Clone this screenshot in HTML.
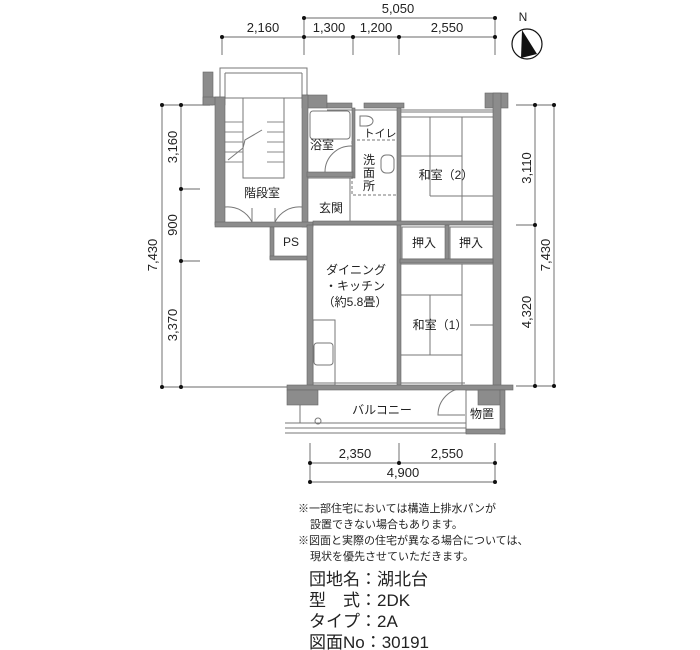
<!DOCTYPE html>
<html><head><meta charset="utf-8"><style>
body{margin:0;background:#fff;width:700px;height:650px;overflow:hidden}
svg{display:block}
text{font-family:"Liberation Sans","Noto Sans CJK JP",sans-serif;fill:#222}
</style></head><body>
<svg width="700" height="650" viewBox="0 0 700 650" xmlns="http://www.w3.org/2000/svg">
<g stroke="#888" stroke-width="1.2" fill="none">
<!-- top dims -->
<line x1="304" y1="18" x2="495" y2="18"/>
<line x1="222" y1="37" x2="495" y2="37"/>
<line x1="222" y1="37" x2="222" y2="55"/>
<line x1="304" y1="18" x2="304" y2="55"/>
<line x1="353" y1="37" x2="353" y2="55"/>
<line x1="399" y1="37" x2="399" y2="55"/>
<line x1="495" y1="18" x2="495" y2="55"/>
<!-- left dims -->
<line x1="162" y1="105" x2="162" y2="387"/>
<line x1="181" y1="105" x2="181" y2="387"/>
<line x1="162" y1="105" x2="210" y2="105"/>
<line x1="162" y1="387" x2="290" y2="387"/>
<line x1="181" y1="189" x2="200" y2="189"/>
<line x1="181" y1="261" x2="200" y2="261"/>
<!-- right dims -->
<line x1="535" y1="105" x2="535" y2="386"/>
<line x1="554" y1="105" x2="554" y2="386"/>
<line x1="516" y1="105" x2="556" y2="105"/>
<line x1="516" y1="386" x2="556" y2="386"/>
<line x1="516" y1="225" x2="535" y2="225"/>
<!-- bottom dims -->
<line x1="310" y1="463" x2="495" y2="463"/>
<line x1="310" y1="482" x2="495" y2="482"/>
<line x1="310" y1="443" x2="310" y2="482"/>
<line x1="399" y1="443" x2="399" y2="463"/>
<line x1="495" y1="443" x2="495" y2="482"/>
</g>
<g fill="#111">
<circle cx="304" cy="18" r="2"/><circle cx="495" cy="18" r="2"/>
<circle cx="222" cy="37" r="2"/><circle cx="304" cy="37" r="2"/><circle cx="353" cy="37" r="2"/><circle cx="399" cy="37" r="2"/><circle cx="495" cy="37" r="2"/>
<circle cx="162" cy="105" r="2"/><circle cx="181" cy="105" r="2"/><circle cx="181" cy="189" r="2"/><circle cx="181" cy="261" r="2"/><circle cx="162" cy="387" r="2"/><circle cx="181" cy="387" r="2"/>
<circle cx="535" cy="105" r="2"/><circle cx="554" cy="105" r="2"/><circle cx="535" cy="225" r="2"/><circle cx="535" cy="386" r="2"/><circle cx="554" cy="386" r="2"/>
<circle cx="310" cy="463" r="2"/><circle cx="399" cy="463" r="2"/><circle cx="495" cy="463" r="2"/><circle cx="310" cy="482" r="2"/><circle cx="495" cy="482" r="2"/>
</g>
<g font-size="13" text-anchor="middle">
<text x="398" y="13">5,050</text>
<text x="263" y="32">2,160</text>
<text x="329" y="32">1,300</text>
<text x="376" y="32">1,200</text>
<text x="447" y="32">2,550</text>
<text x="355" y="458">2,350</text>
<text x="447" y="458">2,550</text>
<text x="403" y="477">4,900</text>
<text transform="translate(157,255) rotate(-90)">7,430</text>
<text transform="translate(177,147) rotate(-90)">3,160</text>
<text transform="translate(177,225) rotate(-90)">900</text>
<text transform="translate(177,325) rotate(-90)">3,370</text>
<text transform="translate(531,168) rotate(-90)">3,110</text>
<text transform="translate(531,312) rotate(-90)">4,320</text>
<text transform="translate(550,255) rotate(-90)">7,430</text>
</g>
<!-- compass -->
<circle cx="527" cy="44" r="15" fill="none" stroke="#111" stroke-width="1.2"/>
<polygon points="522,30 537,54 521,58" fill="#111"/>
<text x="523" y="21" font-size="12" text-anchor="middle">N</text>

<!-- thin lines of plan -->
<g stroke="#777" stroke-width="1" fill="none">
<rect x="220" y="68" width="87" height="30"/>
<line x1="225" y1="73" x2="302" y2="73"/>
<line x1="225" y1="73" x2="225" y2="98"/>
<line x1="302" y1="73" x2="302" y2="98"/>
<rect x="243" y="98" width="41" height="80"/>
<g stroke="#888">
<line x1="225" y1="122" x2="243" y2="122"/><line x1="225" y1="132" x2="243" y2="132"/><line x1="225" y1="142" x2="243" y2="142"/><line x1="225" y1="152" x2="243" y2="152"/><line x1="225" y1="162" x2="243" y2="162"/>
<line x1="267" y1="122" x2="284" y2="122"/><line x1="267" y1="132" x2="284" y2="132"/><line x1="267" y1="142" x2="284" y2="142"/><line x1="267" y1="152" x2="284" y2="152"/><line x1="267" y1="162" x2="284" y2="162"/>
</g>
<path d="M228,160 L243,148 L245,140 L262,130"/>
<!-- stair doors -->
<path d="M225,207 A27,27 0 0 1 252,222 M252,222 L252,208"/>
<path d="M302,207 A27,27 0 0 0 275,222 M275,222 L275,208"/>
<!-- bath -->
<rect x="310" y="111" width="40" height="28" rx="3"/>
<!-- toilet -->
<path d="M360,116 h6 a7,5 0 1 1 0,10 h-6 z"/>
<!-- wash -->
<rect x="352" y="140" width="47" height="55" stroke-dasharray="3,2"/>
<rect x="381" y="155" width="13" height="18" rx="5"/>
<path d="M325,172 A26,26 0 0 1 352,146 L352,172"/>
<line x1="307" y1="178" x2="352" y2="178"/>
<line x1="350" y1="178" x2="350" y2="223"/>
<!-- washitsu 2 tatami -->
<line x1="400" y1="117" x2="493" y2="117"/>
<line x1="400" y1="156" x2="462" y2="156"/>
<line x1="430" y1="117" x2="430" y2="196"/>
<line x1="462" y1="117" x2="462" y2="223"/>
<line x1="430" y1="196" x2="493" y2="196"/>
<!-- oshiire -->
<rect x="402" y="227" width="44" height="32"/>
<rect x="450" y="227" width="43" height="32"/>
<!-- washitsu 1 -->
<line x1="400" y1="264" x2="493" y2="264"/>
<line x1="462" y1="264" x2="462" y2="385"/>
<line x1="400" y1="295" x2="462" y2="295"/>
<line x1="400" y1="355" x2="462" y2="355"/>
<line x1="430" y1="295" x2="430" y2="355"/>
<line x1="470" y1="325" x2="493" y2="325"/>
<!-- kitchen -->
<rect x="313" y="320" width="22" height="65"/>
<rect x="314" y="343" width="19" height="22" rx="3"/>
<!-- windows -->
<line x1="327" y1="110" x2="493" y2="110"/>
<line x1="400" y1="112" x2="493" y2="112"/>
<line x1="313" y1="383" x2="400" y2="383"/>
<line x1="400" y1="383" x2="465" y2="383"/>
<line x1="313" y1="225" x2="400" y2="225"/>
<!-- balcony -->
<path d="M465,388 A27,27 0 0 0 438,415 L465,415"/>
<line x1="285" y1="423" x2="466" y2="423"/>
<line x1="285" y1="428" x2="466" y2="428"/>
<line x1="285" y1="433" x2="466" y2="433"/>
<line x1="300" y1="405" x2="300" y2="423"/>
<circle cx="318" cy="421" r="3"/>
<rect x="466" y="390" width="37" height="42"/>
</g>

<!-- thick walls -->
<g fill="#8c8c8c" stroke="#666" stroke-width="0.6">
<rect x="203" y="72" width="10" height="33"/>
<rect x="203" y="97" width="22" height="8"/>
<rect x="215" y="97" width="10" height="128"/>
<rect x="302" y="95" width="25" height="13"/>
<rect x="302" y="95" width="6" height="132"/>
<rect x="215" y="222" width="98" height="5"/>
<rect x="327" y="103" width="25" height="5"/>
<rect x="364" y="103" width="40" height="5"/>
<rect x="485" y="93" width="23" height="15"/>
<rect x="493" y="93" width="8" height="300"/>
<rect x="352" y="108" width="3" height="70"/>
<rect x="397" y="108" width="4" height="280"/>
<rect x="307" y="172" width="46" height="5"/>
<rect x="270" y="227" width="4" height="32"/>
<rect x="270" y="256" width="40" height="4"/>
<rect x="307" y="225" width="6" height="162"/>
<rect x="313" y="221" width="180" height="4"/>
<rect x="445" y="225" width="4" height="36"/>
<rect x="400" y="259" width="93" height="4"/>
<rect x="287" y="385" width="226" height="5"/>
<rect x="287" y="390" width="31" height="15"/>
<rect x="478" y="390" width="25" height="15"/>
<rect x="500" y="390" width="5" height="44"/>
<rect x="466" y="429" width="39" height="5"/>
</g>

<!-- labels -->
<g font-size="12" text-anchor="middle">
<text x="322" y="149">浴室</text>
<text x="380" y="137" font-size="11">トイレ</text>
<text x="369" y="164">洗</text>
<text x="369" y="177">面</text>
<text x="369" y="190">所</text>
<text x="446" y="179">和室（2）</text>
<text x="262" y="197">階段室</text>
<text x="331" y="212">玄関</text>
<text x="291" y="246">PS</text>
<text x="424" y="247">押入</text>
<text x="471" y="247">押入</text>
<text x="356" y="274">ダイニング</text>
<text x="355" y="290">・キッチン</text>
<text x="355" y="306">（約5.8畳）</text>
<text x="440" y="329">和室（1）</text>
<text x="382" y="414">バルコニー</text>
<text x="482" y="418">物置</text>
</g>
<g font-size="11">
<text x="298" y="512">※一部住宅においては構造上排水パンが</text>
<text x="310" y="528">設置できない場合もあります。</text>
<text x="298" y="544">※図面と実際の住宅が異なる場合については、</text>
<text x="310" y="560">現状を優先させていただきます。</text>
</g>
<g font-size="17">
<text x="309" y="585">団地名：湖北台</text>
<text x="309" y="606">型　式：2DK</text>
<text x="309" y="627">タイプ：2A</text>
<text x="309" y="648">図面No：30191</text>
</g>
</svg>
</body></html>
